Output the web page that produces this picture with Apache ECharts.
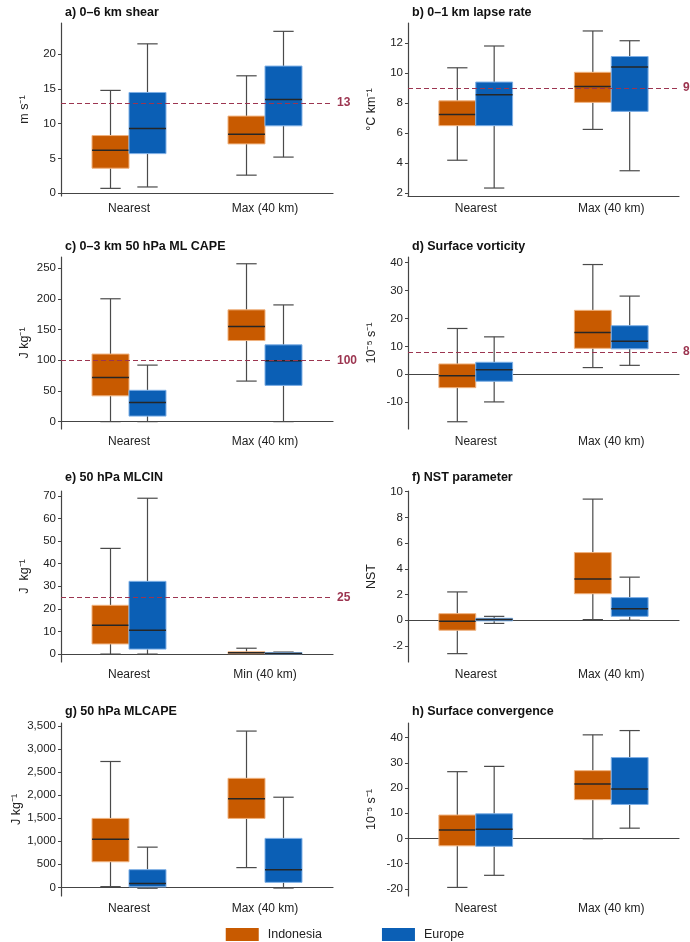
<!DOCTYPE html>
<html><head><meta charset="utf-8">
<script src="https://cdn.jsdelivr.net/npm/echarts@6/dist/echarts.min.js"></script>
<style>html,body{margin:0;padding:0;background:#fff}#c{width:690px;height:942px}</style>
</head><body><div id="c"></div>
<script>
// [min, q1, median, q3, max] per category
const catsMax = ['Nearest', 'Max (40 km)'];
const catsMin = ['Nearest', 'Min (40 km)'];
const seriesNames = ['Indonesia', 'Europe'];

const shearIndonesia = [[0.7, 3.6, 6.2, 8.3, 14.8], [2.6, 7.1, 8.5, 11.1, 16.9]];
const shearEurope    = [[0.9, 5.7, 9.3, 14.5, 21.5], [5.2, 9.7, 13.5, 18.3, 23.3]];
const lapseIndonesia = [[4.2, 6.5, 7.25, 8.15, 10.35], [6.25, 8.05, 9.1, 10.05, 12.8]];
const lapseEurope    = [[2.35, 6.5, 8.55, 9.4, 11.8], [3.5, 7.45, 10.4, 11.1, 12.15]];
const capeLowIndonesia = [[0, 42, 72, 110, 200], [66, 132, 155, 182, 257]];
const capeLowEurope    = [[0, 9, 31, 51, 92], [0, 59, 99, 125, 190]];
const vortIndonesia = [[-17, -4.8, -0.5, 3.7, 16.4], [2.4, 9.3, 15, 22.9, 39.3]];
const vortEurope    = [[-9.9, -2.5, 1.6, 4.3, 13.4], [3.2, 9.1, 11.8, 17.4, 28]];
const cinIndonesia = [[0, 4.5, 12.8, 21.6, 46.8], [0, 0.2, 0.6, 1.0, 2.6]];
const cinEurope    = [[0, 2.2, 10.6, 32.2, 69], [0, 0.1, 0.3, 0.7, 0.9]];
const nstIndonesia = [[-2.6, -0.78, -0.08, 0.51, 2.2], [0.05, 2.06, 3.21, 5.26, 9.42]];
const nstEurope    = [[-0.25, -0.05, 0.05, 0.15, 0.3], [0, 0.3, 0.9, 1.76, 3.35]];
const mlcapeIndonesia = [[15, 555, 1045, 1495, 2730], [428, 1495, 1920, 2365, 3390]];
const mlcapeEurope    = [[-20, 10, 85, 383, 872], [-15, 108, 383, 1062, 1955]];
const convIndonesia = [[-19.4, -2.9, 3.4, 9.3, 26.5], [-0.1, 15.4, 21.6, 26.9, 41.1]];
const convEurope    = [[-14.6, -3.1, 3.7, 9.8, 28.6], [4.1, 13.5, 19.6, 32.1, 42.8]];

const titles = ['a) 0–6 km shear', 'b) 0–1 km lapse rate', 'c) 0–3 km 50 hPa ML CAPE', 'd) Surface vorticity',
  'e) 50 hPa MLCIN', 'f) NST parameter', 'g) 50 hPa MLCAPE', 'h) Surface convergence'];
const yNames = ['m s⁻¹', '°C km⁻¹', 'J kg⁻¹', '10⁻⁵ s⁻¹', 'J  kg⁻¹', 'NST', 'J kg⁻¹', '10⁻⁵ s⁻¹'];
const yTicks = [[0, 5, 10, 15, 20], [2, 4, 6, 8, 10, 12], [0, 50, 100, 150, 200, 250], [-10, 0, 10, 20, 30, 40],
  [0, 10, 20, 30, 40, 50, 60, 70], [-2, 0, 2, 4, 6, 8, 10], [0, 500, 1000, 1500, 2000, 2500, 3000, 3500], [-20, -10, 0, 10, 20, 30, 40]];
const yRanges = [[-0.4, 24.5], [1.82, 13.33], [-12, 268], [-19.6, 42], [-3.5, 72.2], [-3.25, 10.05], [-188, 3565], [-22.8, 45.8]];
const refLines = [13, 9, 100, 8, 25, null, null, null];
const panelData = [[shearIndonesia, shearEurope], [lapseIndonesia, lapseEurope], [capeLowIndonesia, capeLowEurope],
  [vortIndonesia, vortEurope], [cinIndonesia, cinEurope], [nstIndonesia, nstEurope], [mlcapeIndonesia, mlcapeEurope], [convIndonesia, convEurope]];
const panelCats = [catsMax, catsMax, catsMax, catsMax, catsMin, catsMax, catsMax, catsMax];

const colors = ['#C85A00', '#0B5FB5'];
const borders = ['#F0B27E', '#7FB0E6'];
const FONT = '"Liberation Sans", Arial, sans-serif';

const rowsTop = [23, 257, 491, 723];
const rowsBottom = [196, 429, 662, 896];
const titleTop = [1, 235, 466, 700];
const colLeft = [61, 408];
const colWidth = [272, 271];

function makeRender(side) {
  return function (params, api) {
    const x = api.value(0);
    const bw = api.size([1, 0])[0] * 0.272;
    const cx = api.coord([x, 0])[0] + side * bw / 2;
    const y = v => api.coord([x, v])[1];
    const ymin = y(api.value(1)), q1 = y(api.value(2)), med = y(api.value(3)), q3 = y(api.value(4)), ymax = y(api.value(5));
    const cap = bw * 0.55;
    const ws = { stroke: '#4a4a4a', lineWidth: 1.2 };
    return {
      type: 'group', children: [
        { type: 'line', shape: { x1: cx, y1: ymin, x2: cx, y2: q1 }, style: ws },
        { type: 'line', shape: { x1: cx, y1: q3, x2: cx, y2: ymax }, style: ws },
        { type: 'line', shape: { x1: cx - cap / 2, y1: ymin, x2: cx + cap / 2, y2: ymin }, style: ws },
        { type: 'line', shape: { x1: cx - cap / 2, y1: ymax, x2: cx + cap / 2, y2: ymax }, style: ws },
        { type: 'rect', shape: { x: cx - bw / 2, y: Math.min(q1, q3), width: bw, height: Math.max(Math.abs(q1 - q3), 1.5) },
          style: { fill: colors[side > 0 ? 1 : 0], stroke: borders[side > 0 ? 1 : 0], lineWidth: 1 } },
        { type: 'line', shape: { x1: cx - bw / 2, y1: med, x2: cx + bw / 2, y2: med }, style: { stroke: '#262626', lineWidth: 1.5 } }
      ]
    };
  };
}

const grid = [], xAxis = [], yAxis = [], series = [], title = [];
for (let i = 0; i < 8; i++) {
  const r = Math.floor(i / 2), c = i % 2;
  grid.push({ left: colLeft[c], width: colWidth[c], top: rowsTop[r], height: rowsBottom[r] - rowsTop[r] });
  title.push({ text: titles[i], left: colLeft[c] - 1, top: titleTop[r],
    textStyle: { fontFamily: FONT, fontSize: 12.5, fontWeight: 'bold', color: '#111' } });
  xAxis.push({ type: 'category', gridIndex: i, data: panelCats[i],
    axisLine: { lineStyle: { color: '#444', width: 1.2 } },
    axisTick: { alignWithLabel: true, length: 3, lineStyle: { color: '#444' } },
    axisLabel: { fontFamily: FONT, fontSize: 12, color: '#222', margin: 7 } });
  yAxis.push({ type: 'value', gridIndex: i, min: yRanges[i][0], max: yRanges[i][1],
    name: yNames[i], nameLocation: 'middle', nameGap: i === 6 ? 36 : 30, nameRotate: 90,
    nameTextStyle: { fontFamily: FONT, fontSize: 12.5, color: '#222' },
    splitLine: { show: false },
    axisLine: { show: true, lineStyle: { color: '#444', width: 1.2 } },
    axisTick: { show: true, length: 3, customValues: yTicks[i], lineStyle: { color: '#444' } },
    axisLabel: { fontFamily: FONT, fontSize: 11.5, color: '#222', margin: 5, customValues: yTicks[i] } });
  for (let s = 0; s < 2; s++) {
    const ser = {
      type: 'custom', name: seriesNames[s], xAxisIndex: i, yAxisIndex: i,
      itemStyle: { color: colors[s] },
      renderItem: makeRender(s === 0 ? -1 : 1),
      encode: { x: 0, y: [1, 2, 3, 4, 5] },
      data: panelData[i][s].map((d, k) => [k].concat(d)),
      z: 3
    };
    if (s === 1 && refLines[i] !== null) {
      ser.markLine = { silent: true, symbol: 'none', z: 5,
        lineStyle: { type: [5, 3], color: '#9C3550', width: 1.2 },
        label: { position: 'end', formatter: String(refLines[i]), color: '#9C3550', fontFamily: FONT, fontSize: 12, fontWeight: 'bold', distance: 4 },
        data: [{ yAxis: refLines[i] }] };
    }
    series.push(ser);
  }
}

const chart = echarts.init(document.getElementById('c'), null, { renderer: 'canvas' });
chart.setOption({
  animation: false,
  title, grid, xAxis, yAxis, series,
  legend: { data: seriesNames, top: 923, left: 'center', icon: 'rect', itemWidth: 33, itemHeight: 13, itemGap: 60,
    textStyle: { fontFamily: FONT, fontSize: 12.5, color: '#222', padding: [0, 0, 0, 4] } }
});
</script></body></html>
